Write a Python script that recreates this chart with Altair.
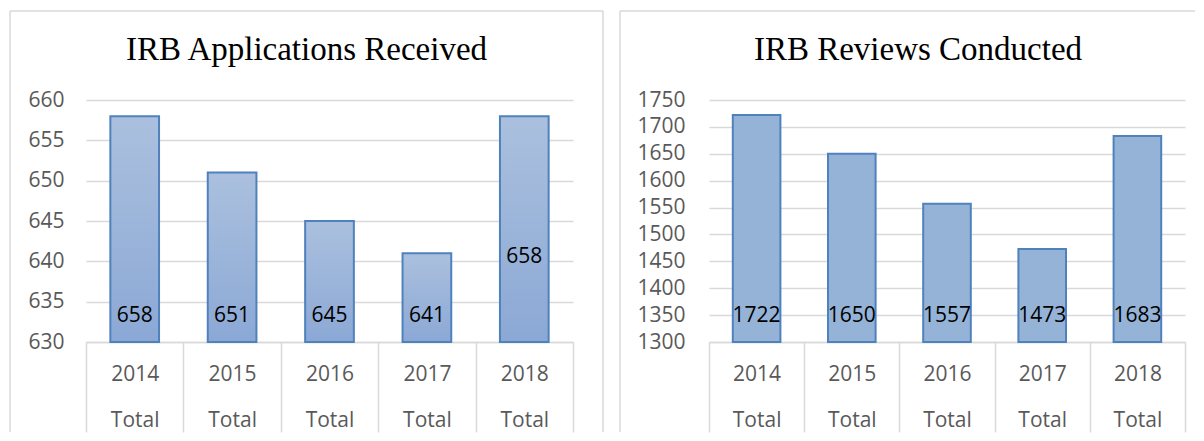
import altair as alt
import pandas as pd

years = ["2014", "2015", "2016", "2017", "2018"]
sub_label = "Total"
applications = [658, 651, 645, 641, 658]
reviews = [1722, 1650, 1557, 1473, 1683]
app_ticks = [630, 635, 640, 645, 650, 655, 660]
rev_ticks = [1300, 1350, 1400, 1450, 1500, 1550, 1600, 1650, 1700, 1750]
titles = ["IRB Applications Received", "IRB Reviews Conducted"]

H = 242
GRID = "#d9d9d9"
LABEL = "#595959"
FONT = "Open Sans"
FS = 21
EDGE = "#4f81bd"

grad_fill = {
    "gradient": "linear", "x1": 0, "y1": 0, "x2": 0, "y2": 1,
    "stops": [{"offset": 0, "color": "#abc0de"}, {"offset": 1, "color": "#8ba8d5"}],
}
flat_fill = "#95b3d7"


def panel(values, ticks, title, width, fill, label_pad, title_x,
          left_edge, right_edge, draw_right, raised_year=None):
    df = pd.DataFrame({"year": years, "value": values})
    lo, hi = ticks[0], ticks[-1]
    x = alt.X(
        "year:N", sort=years,
        scale=alt.Scale(paddingInner=0, paddingOuter=0),
        axis=alt.Axis(
            title=None, orient="bottom", grid=False,
            domain=True, domainColor=GRID, domainWidth=1.5,
            ticks=True, tickBand="extent", tickSize=90, tickColor=GRID, tickWidth=1.5,
            labelExpr=f"datum.label ? [datum.label, '{sub_label}'] : ''",
            labelLineHeight=46,
            labelBaseline="top", labelPadding=-69, labelAngle=0,
            labelFont=FONT, labelFontSize=FS, labelColor=LABEL,
        ),
    )
    y = alt.Y(
        "value:Q",
        scale=alt.Scale(domain=[lo, hi], zero=False, nice=False),
        axis=alt.Axis(
            title=None, values=ticks, domain=False, ticks=False, format="d",
            grid=True, gridColor=GRID, gridWidth=1.5,
            labelFont=FONT, labelFontSize=FS, labelColor=LABEL,
            labelPadding=label_pad,
        ),
    )
    bars = alt.Chart(df).mark_bar(
        fill=fill, stroke=EDGE, strokeWidth=2, width=alt.RelativeBandSize(0.5)
    ).encode(x=x, y=y, y2=alt.datum(lo))

    base_text = alt.Chart(df).mark_text(
        font=FONT, fontSize=FS, color="black", baseline="middle"
    )
    if raised_year is None:
        labels = base_text.encode(x=x, y=alt.value(H - 26), text="value:Q")
        layers = [bars, labels]
    else:
        low = base_text.transform_filter(f"datum.year != '{raised_year}'").encode(
            x=x, y=alt.value(H - 26), text="value:Q")
        high = base_text.transform_filter(f"datum.year == '{raised_year}'").encode(
            x=x, y=alt.value(H - 85), text="value:Q")
        layers = [bars, low, high]

    one = pd.DataFrame({"t": [title]})
    ttl = alt.Chart(one).mark_text(
        font="Liberation Serif", fontSize=33, color="black",
        baseline="alphabetic", align="center"
    ).encode(text="t:N", x=alt.value(title_x), y=alt.value(-40))

    top = alt.Chart(one).mark_rule(color=GRID, strokeWidth=1.5).encode(
        x=alt.value(left_edge), x2=alt.value(right_edge), y=alt.value(-89))
    lft = alt.Chart(one).mark_rule(color=GRID, strokeWidth=1.5).encode(
        x=alt.value(left_edge), y=alt.value(-89), y2=alt.value(H + 90))
    borders = [top, lft]
    if draw_right:
        rgt = alt.Chart(one).mark_rule(color=GRID, strokeWidth=1.5).encode(
            x=alt.value(right_edge), y=alt.value(-89), y2=alt.value(H + 90))
        borders.append(rgt)

    return alt.layer(*borders, ttl, *layers).properties(width=width, height=H)


W1, W2 = 487, 476
left = panel(applications, app_ticks, titles[0], W1, grad_fill, 22, 220.5,
             -76, W1 + 30, True, raised_year="2018")
right = panel(reviews, rev_ticks, titles[1], W2, flat_fill, 24, 209,
              -89, W2 + 10, False)

chart = alt.hconcat(left, right, spacing=15).properties(
    padding={"left": 1, "top": 2, "right": 0, "bottom": 0}
).configure_view(strokeOpacity=0)

chart.save("out.html", embed_options={"renderer": "svg", "actions": False})
